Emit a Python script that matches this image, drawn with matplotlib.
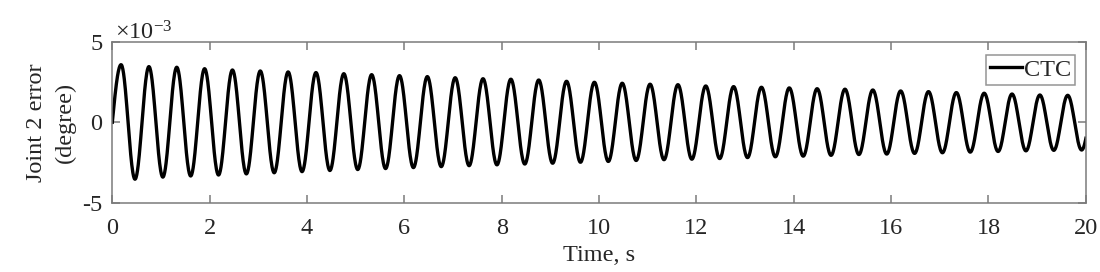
import numpy as np
import matplotlib
matplotlib.use("Agg")
import matplotlib.pyplot as plt

# ---- data (values in units of 1e-3 degree) ----
first_peak_time = 0.18      # s
period = 0.572              # s, spacing between successive peaks
peak_values = [3.57, 3.45, 3.41, 3.32, 3.24, 3.18, 3.12,
               3.08, 3.01, 2.95, 2.89, 2.83, 2.76, 2.70,
               2.67, 2.62, 2.54, 2.48, 2.42, 2.36, 2.33,
               2.25, 2.21, 2.17, 2.13, 2.08, 2.05, 2.00,
               1.94, 1.90, 1.84, 1.80, 1.75, 1.69, 1.67]
trough_values = [-3.53, -3.40, -3.33, -3.27, -3.20, -3.13,
                 -3.06, -2.99, -2.93, -2.87, -2.81, -2.75, -2.69,
                 -2.64, -2.59, -2.54, -2.48, -2.43, -2.37, -2.32,
                 -2.29, -2.25, -2.19, -2.14, -2.10, -2.05, -2.00,
                 -1.97, -1.93, -1.89, -1.85, -1.81, -1.77, -1.74, -1.72]
start_value = 0.0
end_peak_value = 1.65       # next (partially shown) rise after the last trough
series_label = "CTC"
x_ticks = [0, 2, 4, 6, 8, 10, 12, 14, 16, 18, 20]
y_ticks = [-5, 0, 5]

# ---- build the curve through the read extrema ----
ext_t, ext_v = [], []
for k, (p, q) in enumerate(zip(peak_values, trough_values)):
    ext_t.append(first_peak_time + k * period)
    ext_v.append(p)
    ext_t.append(first_peak_time + (k + 0.5) * period)
    ext_v.append(q)
ext_t.append(ext_t[-1] + period / 2)
ext_v.append(end_peak_value)

ts, vs = [], []
s = np.linspace(0, 1, 40)
ts.extend(s * ext_t[0])
vs.extend(start_value + (ext_v[0] - start_value) * np.sin(np.pi / 2 * s))
for i in range(len(ext_t) - 1):
    s = np.linspace(0, 1, 40)[1:]
    ts.extend(ext_t[i] + s * (ext_t[i + 1] - ext_t[i]))
    vs.extend(ext_v[i] + (ext_v[i + 1] - ext_v[i]) * (1 - np.cos(np.pi * s)) / 2)
ts = np.array(ts)
vs = np.array(vs)

# ---- styling ----
plt.rcParams['font.family'] = ['Liberation Serif', 'DejaVu Serif']
plt.rcParams['mathtext.fontset'] = 'custom'
plt.rcParams['mathtext.rm'] = 'Liberation Serif'
plt.rcParams['mathtext.it'] = 'Liberation Serif:italic'
plt.rcParams['axes.unicode_minus'] = False

FS = 17.5
txt_col = '#262626'
spine_col = '#7a7a7a'

fig = plt.figure(figsize=(11.0, 2.72), dpi=100)
ax = fig.add_axes([0.1021, 0.254, 0.8850, 0.593])

ax.plot(ts, vs, color='black', lw=2.4, label=series_label)
ax.set_xlim(0, 20)
ax.set_ylim(-5, 5)
ax.set_xticks(x_ticks)
ax.set_yticks(y_ticks)

for sp in ax.spines.values():
    sp.set_color(spine_col)
    sp.set_linewidth(1.1)
ax.tick_params(direction='in', top=True, right=True, length=5.5, width=1.1,
               color=spine_col, labelcolor=txt_col, labelsize=FS)
ax.tick_params(axis='x', pad=11)
ax.tick_params(axis='y', pad=7)

ax.set_xlabel('Time, s', fontsize=FS, color=txt_col, labelpad=4)
ax.set_ylabel('Joint 2 error\n(degree)', fontsize=FS, color=txt_col,
              labelpad=5, linespacing=1.45)

ax.text(0.003, 0.985, r'$\times10^{-3}$', transform=ax.transAxes,
        fontsize=FS, color=txt_col, ha='left', va='bottom')

leg = ax.legend(loc='upper right', bbox_to_anchor=(0.9887, 0.915),
                fontsize=FS, frameon=True, fancybox=False,
                handlelength=1.3, handletextpad=0.1, borderpad=0.15,
                borderaxespad=0.0)
leg.get_frame().set_edgecolor(spine_col)
leg.get_frame().set_linewidth(1.1)
for t in leg.get_texts():
    t.set_color(txt_col)

fig.savefig('out.png', dpi=100)
